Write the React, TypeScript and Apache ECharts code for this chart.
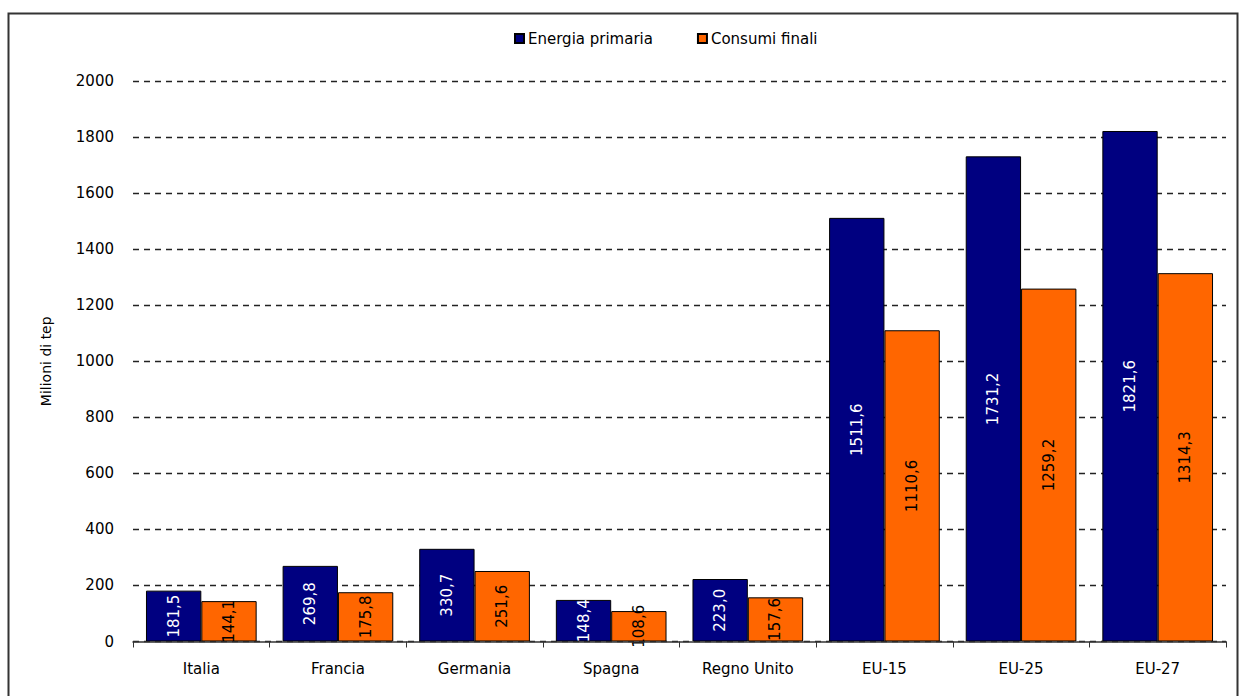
import React, { useEffect, useRef } from "react";
import * as echarts from "echarts";

const categories = ["Italia", "Francia", "Germania", "Spagna", "Regno Unito", "EU-15", "EU-25", "EU-27"];
const energiaPrimaria = [181.5, 269.8, 330.7, 148.4, 223.0, 1511.6, 1731.2, 1821.6];
const consumiFinali = [144.1, 175.8, 251.6, 108.6, 157.6, 1110.6, 1259.2, 1314.3];
const seriesNames = ["Energia primaria", "Consumi finali"];
const yAxisName = "Milioni di tep";

const FONT = "'DejaVu Sans', 'Liberation Sans', Arial, sans-serif";
const fmt = (v: number) => v.toFixed(1).replace(".", ",");

export default function App() {
  const ref = useRef<HTMLDivElement>(null);
  useEffect(() => {
    document.body.style.margin = "0";
    const chart = echarts.init(ref.current!, undefined, { renderer: "svg" });
    chart.setOption({
      animation: false,
      backgroundColor: "#ffffff",
      textStyle: { fontFamily: FONT },
      graphic: [
        {
          type: "rect",
          shape: { x: 8.5, y: 13.5, width: 1229, height: 700 },
          style: { fill: "none", stroke: "#333", lineWidth: 2 },
          silent: true,
        },
      ],
      legend: {
        data: seriesNames,
        left: 509,
        top: 26,
        itemWidth: 9,
        itemHeight: 9,
        itemGap: 44,
        icon: "rect",
        textStyle: { fontSize: 15, color: "#000", fontFamily: FONT, padding: [0, 0, 0, -1] },
      },
      grid: { left: 133, right: 16, top: 81, bottom: 54.5 },
      xAxis: {
        type: "category",
        data: categories,
        axisLine: { lineStyle: { color: "#333", width: 1.5 } },
        axisTick: { show: true, alignWithLabel: false, length: 6, lineStyle: { color: "#333" } },
        axisLabel: { fontSize: 15, color: "#000", margin: 20, fontFamily: FONT },
        z: 10,
      },
      yAxis: {
        type: "value",
        min: 0,
        max: 2000,
        interval: 200,
        name: yAxisName,
        nameLocation: "middle",
        nameGap: 80,
        nameTextStyle: { fontSize: 14, color: "#000", fontFamily: FONT },
        axisLine: { show: false },
        axisTick: { show: false },
        axisLabel: {
          fontSize: 15,
          color: "#000",
          margin: 19,
          fontFamily: FONT,
          formatter: (v: number) => String(v),
        },
        splitLine: { show: true, lineStyle: { color: "#222", type: [6, 5], width: 1.3 } },
      },
      series: [
        {
          name: seriesNames[0],
          type: "bar",
          data: energiaPrimaria,
          barGap: "0%",
          barCategoryGap: "19%",
          itemStyle: { color: "#000080", borderColor: "#000", borderWidth: 1 },
          label: {
            show: true,
            position: "inside",
            rotate: 90,
            color: "#ffffff",
            fontSize: 15,
            fontFamily: FONT,
            formatter: (p: any) => fmt(p.value),
          },
        },
        {
          name: seriesNames[1],
          type: "bar",
          data: consumiFinali,
          itemStyle: { color: "#FF6600", borderColor: "#000", borderWidth: 1 },
          label: {
            show: true,
            position: "inside",
            rotate: 90,
            color: "#000000",
            fontSize: 15,
            fontFamily: FONT,
            formatter: (p: any) => fmt(p.value),
          },
        },
      ],
    });
    return () => chart.dispose();
  }, []);
  return <div ref={ref} style={{ width: 1242, height: 696 }} />;
}
